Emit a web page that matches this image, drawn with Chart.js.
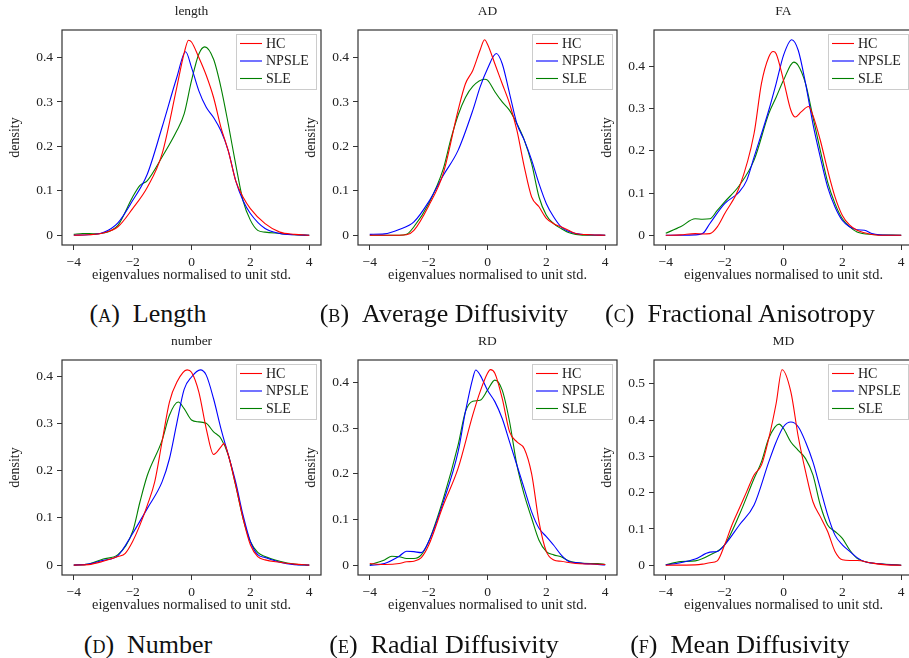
<!DOCTYPE html>
<html>
<head>
<meta charset="utf-8">
<script src="https://cdn.jsdelivr.net/npm/chart.js@4.4.1/dist/chart.umd.min.js"></script>
<style>
  html, body { margin: 0; padding: 0; background: #fff; }
  body { width: 909px; height: 658px; position: relative; overflow: hidden; font-family: "Liberation Serif", serif; color: #222; }
  canvas { position: absolute; }
  .title { position: absolute; font-size: 13.5px; transform: translate(-50%, -50%); white-space: nowrap; }
  .caption { position: absolute; font-size: 26px; transform: translate(-50%, -50%); white-space: nowrap; color: #111; }
  .sc { font-variant: small-caps; }
</style>
</head>
<body>
<script>
// series / labels
const seriesNames = ['HC', 'NPSLE', 'SLE'];
const seriesColors = ['#ff0000', '#0000ff', '#008000'];
const xTicks = [-4, -2, 0, 2, 4];
const panelTitles = ['length', 'AD', 'FA', 'number', 'RD', 'MD'];
const panelLetters = ['a', 'b', 'c', 'd', 'e', 'f'];
const panelCaptions = ['Length', 'Average Diffusivity', 'Fractional Anisotropy', 'Number', 'Radial Diffusivity', 'Mean Diffusivity'];
const yMin = [-0.022, -0.022, -0.023, -0.021, -0.021, -0.027];
const yMax = [0.462, 0.462, 0.486, 0.434, 0.449, 0.566];

// density curves, [x, density]
const lengthHC = [[-4,0],[-3.5,0.001],[-3,0.005],[-2.5,0.019],[-2,0.06],[-1.5,0.108],[-1,0.183],[-0.5,0.333],[-0.25,0.41],[-0.1,0.439],[0,0.435],[0.25,0.40],[0.5,0.36],[0.75,0.31],[1,0.243],[1.25,0.19],[1.5,0.123],[1.75,0.086],[2,0.06],[2.5,0.026],[3,0.007],[3.5,0.002],[4,0]];
const lengthNPSLE = [[-4,0],[-3.5,0.001],[-3,0.006],[-2.5,0.028],[-2,0.078],[-1.5,0.138],[-1,0.243],[-0.5,0.355],[-0.2,0.413],[0,0.378],[0.25,0.325],[0.5,0.288],[0.75,0.265],[1,0.235],[1.25,0.19],[1.5,0.123],[1.75,0.078],[2,0.049],[2.5,0.015],[3,0.004],[3.5,0.001],[4,0]];
const lengthSLE = [[-4,0.002],[-3.7,0.004],[-3.25,0.003],[-3,0.005],[-2.75,0.01],[-2.5,0.022],[-2,0.086],[-1.75,0.112],[-1.5,0.123],[-1,0.176],[-0.5,0.235],[-0.25,0.273],[0,0.348],[0.25,0.408],[0.45,0.424],[0.75,0.396],[1,0.333],[1.25,0.25],[1.5,0.16],[1.75,0.078],[2,0.034],[2.25,0.011],[2.5,0.007],[3,0.004],[3.5,0.001],[4,0]];

const adHC = [[-4,0],[-3,0],[-2.75,0.001],[-2.5,0.011],[-2,0.066],[-1.5,0.14],[-1,0.281],[-0.75,0.341],[-0.5,0.371],[-0.25,0.417],[-0.1,0.44],[0,0.43],[0.25,0.386],[0.5,0.341],[0.75,0.296],[1,0.236],[1.25,0.154],[1.5,0.086],[1.75,0.064],[2,0.038],[2.25,0.026],[2.5,0.019],[2.75,0.011],[3,0.004],[3.5,0.001],[4,0]];
const adNPSLE = [[-4,0.002],[-3.5,0.003],[-3,0.013],[-2.5,0.03],[-2,0.075],[-1.5,0.135],[-1,0.191],[-0.5,0.281],[-0.25,0.334],[0,0.375],[0.3,0.409],[0.5,0.386],[0.75,0.319],[1,0.251],[1.25,0.214],[1.5,0.169],[1.75,0.116],[2,0.071],[2.25,0.041],[2.5,0.019],[2.75,0.009],[3,0.004],[3.5,0.001],[4,0]];
const adSLE = [[-4,0],[-3,0],[-2.75,0.002],[-2.5,0.019],[-2,0.071],[-1.5,0.15],[-1.25,0.215],[-1,0.27],[-0.75,0.31],[-0.5,0.335],[-0.1,0.351],[0,0.349],[0.25,0.323],[0.5,0.3],[0.75,0.281],[1,0.251],[1.25,0.214],[1.5,0.161],[1.75,0.086],[2,0.045],[2.25,0.026],[2.5,0.015],[2.75,0.006],[3,0.002],[3.5,0],[4,0]];

const faHC = [[-4,0],[-3.5,0.001],[-3,0.004],[-2.75,0.003],[-2.5,0.004],[-2.25,0.02],[-2,0.051],[-1.5,0.114],[-1,0.241],[-0.75,0.359],[-0.5,0.422],[-0.35,0.435],[-0.25,0.43],[0,0.367],[0.25,0.296],[0.4,0.28],[0.6,0.292],[0.85,0.305],[1,0.284],[1.25,0.225],[1.5,0.154],[1.75,0.091],[2,0.047],[2.25,0.024],[2.5,0.012],[2.75,0.006],[3,0.002],[3.5,0],[4,0]];
const faNPSLE = [[-4,0],[-3,0.001],[-2.75,0.004],[-2.5,0.028],[-2,0.075],[-1.5,0.103],[-1.25,0.13],[-1,0.185],[-0.5,0.296],[-0.25,0.359],[0,0.426],[0.28,0.463],[0.5,0.438],[0.75,0.359],[1,0.264],[1.25,0.185],[1.5,0.114],[1.75,0.067],[2,0.035],[2.25,0.02],[2.5,0.013],[2.75,0.012],[3,0.004],[3.25,0.001],[4,0]];
const faSLE = [[-4,0.005],[-3.5,0.02],[-3,0.039],[-2.75,0.038],[-2.5,0.039],[-2.25,0.059],[-2,0.079],[-1.5,0.118],[-1,0.178],[-0.5,0.288],[-0.25,0.327],[0,0.367],[0.35,0.41],[0.5,0.402],[0.75,0.359],[1,0.28],[1.25,0.201],[1.5,0.126],[1.75,0.075],[2,0.039],[2.25,0.02],[2.5,0.008],[3,0.002],[4,0]];

const numberHC = [[-4,0],[-3.5,0.001],[-3,0.008],[-2.5,0.018],[-2.25,0.025],[-2,0.05],[-1.75,0.085],[-1.5,0.127],[-1.25,0.176],[-1,0.261],[-0.75,0.345],[-0.5,0.387],[-0.15,0.413],[0,0.408],[0.25,0.366],[0.5,0.289],[0.75,0.234],[1,0.25],[1.1,0.257],[1.25,0.233],[1.5,0.169],[1.75,0.099],[2,0.043],[2.25,0.018],[2.5,0.011],[3,0.006],[3.5,0.002],[4,0]];
const numberNPSLE = [[-4,0],[-3.5,0.002],[-3,0.01],[-2.5,0.02],[-2,0.067],[-1.5,0.12],[-1,0.176],[-0.75,0.225],[-0.5,0.30],[-0.25,0.372],[0,0.398],[0.3,0.413],[0.5,0.402],[0.75,0.352],[1,0.289],[1.25,0.233],[1.5,0.176],[1.75,0.106],[2,0.05],[2.25,0.022],[2.5,0.016],[3,0.006],[3.5,0.001],[4,0]];
const numberSLE = [[-4,0],[-3.5,0.002],[-3,0.013],[-2.5,0.022],[-2,0.071],[-1.75,0.134],[-1.5,0.19],[-1,0.264],[-0.75,0.317],[-0.45,0.345],[-0.25,0.331],[0,0.307],[0.25,0.303],[0.5,0.3],[0.75,0.282],[1,0.268],[1.25,0.233],[1.5,0.169],[1.75,0.099],[2,0.05],[2.25,0.027],[2.5,0.018],[3,0.008],[3.5,0.002],[4,0]];

const rdHC = [[-4,0.004],[-3.5,0.002],[-3,0.004],[-2.75,0.008],[-2.5,0.009],[-2.25,0.017],[-2,0.044],[-1.5,0.132],[-1,0.212],[-0.5,0.329],[-0.25,0.38],[0,0.42],[0.1,0.428],[0.25,0.42],[0.5,0.365],[0.75,0.292],[1,0.27],[1.25,0.255],[1.5,0.2],[1.75,0.095],[2,0.03],[2.25,0.012],[2.5,0.009],[3,0.004],[3.5,0.003],[4,0.002]];
const rdNPSLE = [[-4,0],[-3.5,0.004],[-3,0.02],[-2.75,0.031],[-2.5,0.03],[-2.25,0.028],[-2,0.052],[-1.5,0.139],[-1,0.248],[-0.75,0.336],[-0.5,0.409],[-0.4,0.427],[-0.25,0.416],[0,0.383],[0.25,0.358],[0.5,0.321],[0.75,0.27],[1,0.219],[1.25,0.168],[1.5,0.117],[1.75,0.081],[2,0.063],[2.25,0.044],[2.5,0.023],[2.75,0.009],[3,0.006],[3.5,0.003],[4,0.001]];
const rdSLE = [[-4,0.001],[-3.5,0.012],[-3.25,0.02],[-3,0.019],[-2.75,0.015],[-2.5,0.015],[-2.25,0.023],[-2,0.052],[-1.5,0.146],[-1,0.263],[-0.75,0.336],[-0.5,0.359],[-0.25,0.361],[0,0.383],[0.25,0.405],[0.5,0.383],[0.75,0.314],[1,0.219],[1.25,0.154],[1.5,0.103],[1.75,0.055],[2,0.03],[2.25,0.023],[2.5,0.019],[2.75,0.01],[3,0.006],[3.5,0.004],[3.75,0.004],[4,0.002]];

const mdHC = [[-4,0],[-3,0.001],[-2.75,0.003],[-2.5,0.007],[-2.25,0.012],[-2,0.056],[-1.75,0.111],[-1.5,0.157],[-1.25,0.203],[-1,0.249],[-0.75,0.276],[-0.5,0.35],[-0.25,0.446],[-0.05,0.539],[0.25,0.478],[0.5,0.355],[0.75,0.258],[1,0.175],[1.25,0.134],[1.5,0.093],[1.75,0.038],[2,0.015],[2.25,0.013],[2.5,0.013],[3,0.006],[3.5,0.001],[4,0]];
const mdNPSLE = [[-4,0.001],[-3.5,0.007],[-3,0.017],[-2.5,0.036],[-2.25,0.038],[-2,0.056],[-1.5,0.111],[-1,0.166],[-0.5,0.285],[-0.25,0.34],[0,0.382],[0.25,0.395],[0.5,0.382],[0.75,0.34],[1,0.285],[1.25,0.212],[1.5,0.139],[1.75,0.083],[2,0.056],[2.25,0.038],[2.5,0.021],[2.75,0.01],[3,0.006],[3.5,0.002],[4,0]];
const mdSLE = [[-4,0.001],[-3.5,0.01],[-3,0.012],[-2.5,0.028],[-2,0.056],[-1.5,0.139],[-1,0.239],[-0.75,0.285],[-0.5,0.35],[-0.15,0.389],[0,0.377],[0.25,0.34],[0.5,0.317],[0.75,0.294],[1,0.249],[1.25,0.166],[1.5,0.111],[1.75,0.093],[2,0.074],[2.25,0.042],[2.5,0.019],[2.75,0.01],[3,0.006],[4,0]];

const panelData = [
  [lengthHC, lengthNPSLE, lengthSLE],
  [adHC, adNPSLE, adSLE],
  [faHC, faNPSLE, faSLE],
  [numberHC, numberNPSLE, numberSLE],
  [rdHC, rdNPSLE, rdSLE],
  [mdHC, mdNPSLE, mdSLE]
];

const FONT = '"Liberation Serif", serif';

// box around the plot area
const frame = {
  id: 'frame',
  afterDraw(chart) {
    const {ctx, chartArea: a} = chart;
    ctx.save();
    ctx.strokeStyle = '#333';
    ctx.lineWidth = 1.2;
    ctx.strokeRect(a.left, a.top, a.right - a.left, a.bottom - a.top);
    ctx.restore();
  }
};

// legend in the top right corner of the plot area
const insideLegend = {
  id: 'insideLegend',
  afterDatasetsDraw(chart) {
    const {ctx, chartArea} = chart;
    const w = 80, h = 55;
    const x0 = Math.round(chartArea.right - 5 - w), y0 = Math.round(chartArea.top + 4);
    ctx.save();
    ctx.fillStyle = 'rgba(255,255,255,0.9)';
    ctx.fillRect(x0, y0, w, h);
    ctx.strokeStyle = '#cccccc';
    ctx.lineWidth = 1;
    ctx.strokeRect(x0 + 0.5, y0 + 0.5, w, h);
    ctx.font = '14px ' + FONT;
    ctx.textBaseline = 'middle';
    chart.data.datasets.forEach((ds, i) => {
      const y = y0 + 9.5 + i * 17.5;
      ctx.strokeStyle = ds.borderColor;
      ctx.lineWidth = 1.1;
      ctx.beginPath();
      ctx.moveTo(x0 + 4, y);
      ctx.lineTo(x0 + 26, y);
      ctx.stroke();
      ctx.fillStyle = '#222';
      ctx.fillText(ds.label, x0 + 30, y + 0.5);
    });
    ctx.restore();
  }
};

function fmt(v, digits) {
  if (Math.abs(v) < 1e-9) return '0';
  const s = Math.abs(v).toFixed(digits);
  return v < 0 ? '\u2212' + s : s;
}

panelData.forEach((series, p) => {
  const col = p % 3, row = Math.floor(p / 3);
  const left = col * 296, top = row * 330;
  const cv = document.createElement('canvas');
  cv.width = 326; cv.height = 290;
  cv.style.left = left + 'px'; cv.style.top = top + 'px';
  cv.style.width = '326px'; cv.style.height = '290px';
  document.body.appendChild(cv);

  const t = document.createElement('div');
  t.className = 'title';
  t.textContent = panelTitles[p];
  t.style.left = (left + 62 + 129.5) + 'px';
  t.style.top = (top + 11) + 'px';
  document.body.appendChild(t);

  const c = document.createElement('div');
  c.className = 'caption';
  c.innerHTML = '(<span class="sc">' + panelLetters[p] + '</span>)&ensp;' + panelCaptions[p];
  c.style.left = [148, 444, 740][col] + 'px';
  c.style.top = [314, 645][row] + 'px';
  document.body.appendChild(c);

  new Chart(cv, {
    type: 'line',
    data: {
      datasets: series.map((d, i) => ({
        label: seriesNames[i],
        data: d,
        borderColor: seriesColors[i],
        borderWidth: 1.1,
        pointRadius: 0,
        fill: false,
        cubicInterpolationMode: 'monotone'
      }))
    },
    options: {
      responsive: false,
      animation: false,
      events: [],
      layout: { padding: { top: 30, right: 5, left: 0, bottom: 0 } },
      plugins: { legend: { display: false }, tooltip: { enabled: false } },
      scales: {
        x: {
          type: 'linear',
          min: -4.4, max: 4.4,
          afterFit: s => { s.height = 45; },
          afterBuildTicks: s => { s.ticks = xTicks.map(v => ({ value: v })); },
          border: { display: false },
          grid: { drawOnChartArea: false, drawTicks: true, tickLength: 5, color: '#333', lineWidth: 1 },
          ticks: { font: { family: FONT, size: 13.5 }, color: '#222', padding: 4, maxRotation: 0, callback: v => fmt(v, 0) },
          title: { display: true, text: 'eigenvalues normalised to unit std.', font: { family: FONT, size: 14.3 }, color: '#222', padding: { top: 0, bottom: 6.5 } }
        },
        y: {
          min: yMin[p], max: yMax[p],
          afterFit: s => { s.width = 62; },
          border: { display: false },
          grid: { drawOnChartArea: false, drawTicks: true, tickLength: 5, color: '#333', lineWidth: 1 },
          ticks: { stepSize: 0.1, includeBounds: false, font: { family: FONT, size: 13.5 }, color: '#222', padding: 4, callback: v => fmt(v, 1) },
          title: { display: true, text: 'density', font: { family: FONT, size: 14 }, color: '#222', padding: { top: 6.6, bottom: 0 } }
        }
      }
    },
    plugins: [insideLegend, frame]
  });
});
</script>
</body>
</html>
